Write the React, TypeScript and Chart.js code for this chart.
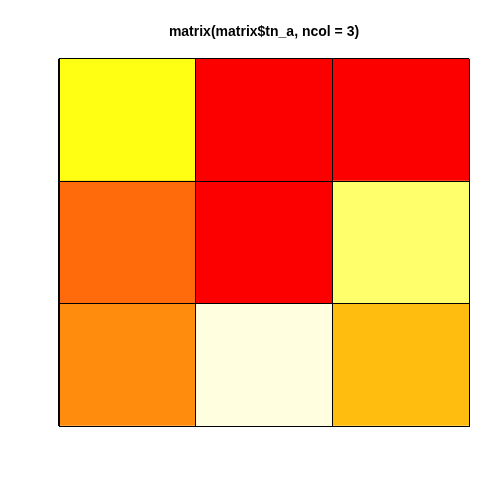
import React, { useEffect, useRef } from "react";
import { Chart, registerables } from "chart.js";

Chart.register(...registerables);

const columns = ["1", "2", "3"];
// cell levels, row by row (top row first), 1 = lowest (red) ... 7 = highest (cream)
const rowTop = [5, 1, 1];
const rowMiddle = [2, 1, 6];
const rowBottom = [3, 7, 4];
const levels = [1, 2, 3, 4, 5, 6, 7];
const levelColors = ["#FC0000", "#FF6A0A", "#FF8C0C", "#FFBE0F", "#FFFF14", "#FFFF6B", "#FFFFE0"];
const titleText = "matrix(matrix$tn_a, ncol = 3)";

const colorOf = (v: number) => levelColors[levels.indexOf(v)];

export default function App() {
  const ref = useRef<HTMLCanvasElement | null>(null);
  useEffect(() => {
    if (!ref.current) return;
    const rows = [rowBottom, rowMiddle, rowTop];
    const chart = new Chart(ref.current, {
      type: "bar",
      data: {
        labels: columns,
        datasets: rows.map((r, i) => ({
          label: "row" + i,
          data: r.map(() => 1),
          backgroundColor: r.map(colorOf),
          borderWidth: 0,
          barPercentage: 1,
          categoryPercentage: 1,
        })),
      },
      options: {
        responsive: false,
        animation: false,
        layout: { padding: { left: 59, right: 31, bottom: 74, top: 0 } },
        plugins: {
          legend: { display: false },
          tooltip: { enabled: false },
          title: {
            display: true,
            text: titleText,
            color: "#000",
            font: { family: "Liberation Sans, Arial, sans-serif", size: 14, weight: "bold", lineHeight: 1.2 },
            padding: { top: 24, bottom: 18 },
          },
        },
        scales: {
          x: {
            stacked: true,
            offset: true,
            z: 1,
            grid: { offset: true, color: "#000", lineWidth: 1, drawTicks: false, z: 1 },
            border: { display: true, color: "#000", z: 2 },
            ticks: { display: false },
          },
          y: {
            stacked: true,
            min: 0,
            max: 3,
            z: 1,
            grid: { color: "#000", lineWidth: 1, drawTicks: false, z: 1 },
            border: { display: true, color: "#000", z: 2 },
            ticks: { display: false, stepSize: 1 },
          },
        },
      },
    });
    return () => chart.destroy();
  }, []);
  return (
    <div style={{ position: "fixed", left: 0, top: 0, width: 500, height: 500, background: "#fff" }}>
      <canvas ref={ref} width={500} height={500} />
    </div>
  );
}
